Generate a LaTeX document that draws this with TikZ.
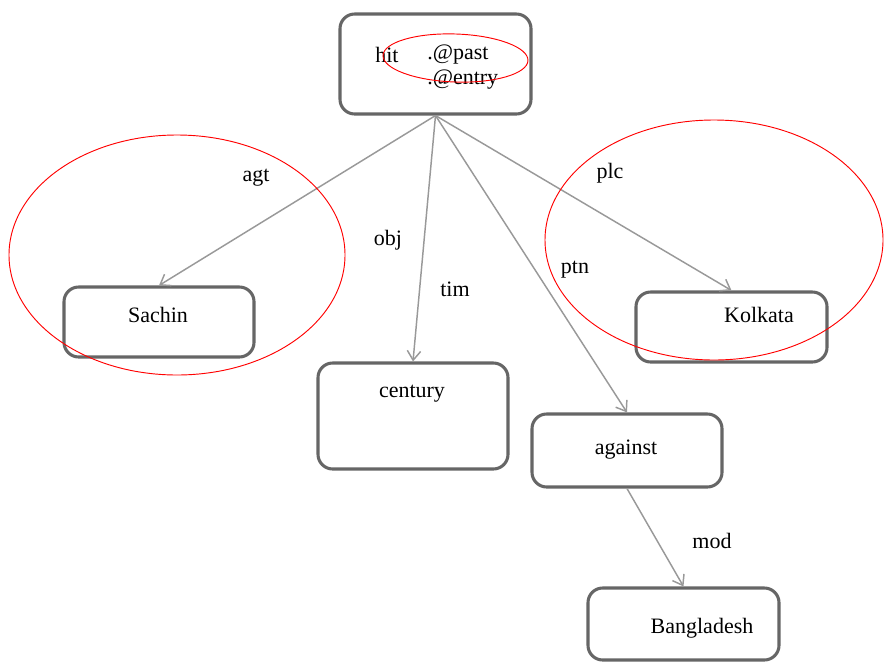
\documentclass[tikz,border=0pt]{standalone}
\usepackage{fontspec}
\setmainfont{Liberation Serif}
\usetikzlibrary{arrows.meta}
\begin{document}
\begin{tikzpicture}[x=0.75pt,y=-0.75pt,
  box/.style={draw=black!60, line width=2.3pt, rounded corners=11pt, inner sep=0pt},
  word/.style={font=\fontsize{16.5}{19}\selectfont, inner sep=0pt},
  rel/.style={draw=black!40, line width=1.1pt, -{Straight Barb[length=7pt,width=10pt,line width=1.1pt]}},
  highlight/.style={draw=red, line width=0.7pt}]
\useasboundingbox (0,0) rectangle (885,664);

% boxes
\node[box, minimum width=191*0.75pt, minimum height=100*0.75pt] (hit) at (435.5,64) {};
\node[box, minimum width=190*0.75pt, minimum height=70*0.75pt] (sachin) at (159,322) {};
\node[box, minimum width=190*0.75pt, minimum height=106*0.75pt] (century) at (413,416) {};
\node[box, minimum width=191*0.75pt, minimum height=70*0.75pt] (kolkata) at (731.5,327) {};
\node[box, minimum width=190*0.75pt, minimum height=73*0.75pt] (against) at (627,450.5) {};
\node[box, minimum width=191*0.75pt, minimum height=72*0.75pt] (bangladesh) at (683.5,624) {};

% box texts
\node[word, anchor=west] (thit) at (375,55) {hit};
\node[word, anchor=west] (tpast) at (427,55) {.@past};
\node[word, anchor=west] (tentry) at (427,80) {.@entry};
\node[word] (tsachin) at (158,315) {Sachin};
\node[word] (tcentury) at (412,394) {century};
\node[word] (tkolkata) at (759,315) {Kolkata};
\node[word] (tagainst) at (626,450) {against};
\node[word] (tbangladesh) at (702,628) {Bangladesh};

% relations
\draw[rel] (hit.south) -- (sachin.north);
\draw[rel] (hit.south) -- (century.north);
\draw[rel] (hit.south) -- (against.north);
\draw[rel] (hit.south) -- (kolkata.north);
\draw[rel] (against.south) -- (bangladesh.north);

% relation labels
\node[word] (lagt) at (256,178) {agt};
\node[word] (lobj) at (388,240) {obj};
\node[word] (ltim) at (455,289) {tim};
\node[word] (lptn) at (575,270) {ptn};
\node[word] (lplc) at (610,173) {plc};
\node[word] (lmod) at (712,541) {mod};

% red highlight ellipses
\draw[highlight] (177,255) ellipse [x radius=168, y radius=120];
\draw[highlight] (714,240) ellipse [x radius=169, y radius=120];
\draw[highlight, rotate around={-2:(455.5,58)}] (455.5,58) ellipse [x radius=72.5, y radius=24];
\end{tikzpicture}
\end{document}
